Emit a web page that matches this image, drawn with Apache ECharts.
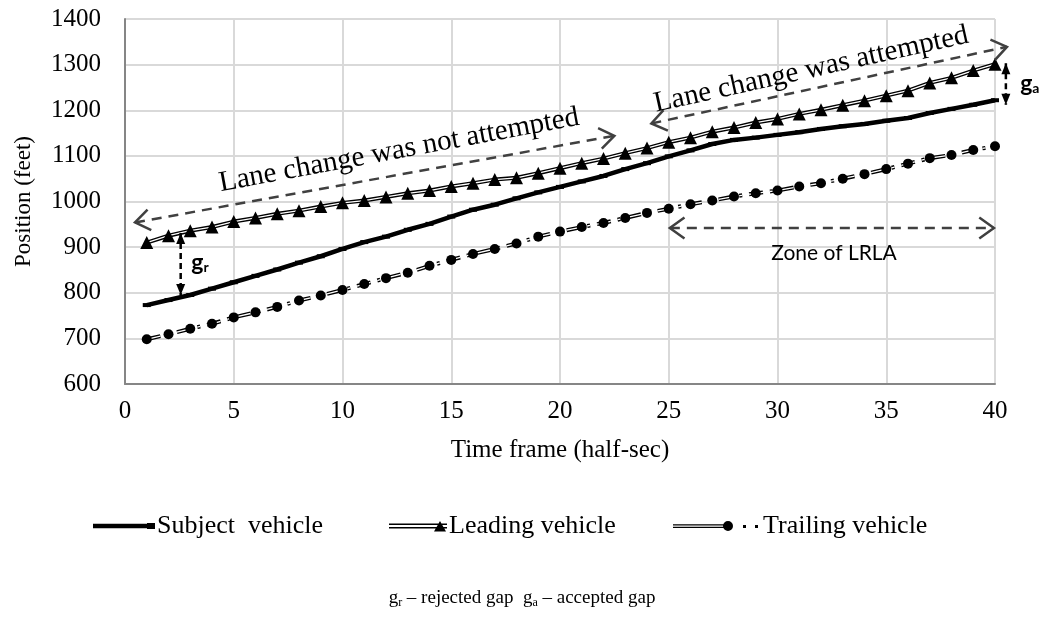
<!DOCTYPE html>
<html>
<head>
<meta charset="utf-8">
<script src="https://cdn.jsdelivr.net/npm/echarts/dist/echarts.min.js"></script>
<style>
  html, body { margin: 0; padding: 0; background: #fff; }
  #chart { width: 1045px; height: 635px; }
</style>
</head>
<body>
<div id="chart"></div>
<script>
// time frames (half-sec)
var frames = [1, 2, 3, 4, 5, 6, 7, 8, 9, 10, 11, 12, 13, 14, 15, 16, 17, 18, 19, 20,
              21, 22, 23, 24, 25, 26, 27, 28, 29, 30, 31, 32, 33, 34, 35, 36, 37, 38, 39, 40];

// position (feet)
var subjectPos = [773, 784, 795, 809, 823, 837, 851, 866, 880, 896, 911, 923, 938, 951, 967, 982, 993, 1007, 1020, 1032,
                  1044, 1056, 1071, 1084, 1099, 1112, 1126, 1135, 1140, 1146, 1152, 1159, 1165, 1170, 1177, 1183, 1194, 1203, 1212, 1222];
var leadingPos = [910, 925, 936, 944, 956, 964, 973, 980, 989, 997, 1002, 1010, 1018, 1024, 1033, 1040, 1048, 1052, 1062, 1073,
                  1084, 1094, 1106, 1117, 1130, 1140, 1153, 1162, 1173, 1181, 1192, 1201, 1211, 1221, 1232, 1243, 1260, 1271, 1287, 1301];
var trailingPos = [698, 709, 721, 732, 746, 757, 769, 783, 794, 806, 819, 832, 844, 859, 872, 885, 896, 908, 923, 934,
                   944, 953, 964, 975, 984, 994, 1002, 1011, 1018, 1024, 1033, 1040, 1050, 1060, 1071, 1083, 1095, 1102, 1113, 1121];

var seriesNames = ['Subject  vehicle', 'Leading vehicle', 'Trailing vehicle'];

function pairs(vals) {
    return frames.map(function (t, i) { return [t, vals[i]]; });
}

var serif = '"Liberation Serif", "Times New Roman", serif';
var sans = 'Lato, "Open Sans", "Liberation Sans", sans-serif';

var myChart = echarts.init(document.getElementById('chart'));

var iconSubject = 'path://M0,0 L0.01,0 Z M62,14 L61.99,14 Z M0,4.8 L62,4.8 L62,9.2 L0,9.2 Z M54,4 L62,4 L62,10 L54,10 Z';
var iconLeading = 'path://M0,0 L0.01,0 Z M58,14 L57.99,14 Z M0,4.6 L58,4.6 L58,5.9 L0,5.9 Z M0,8.1 L58,8.1 L58,9.4 L0,9.4 Z M45,12.5 L51,2 L57,12.5 Z';
var iconTrailing = 'path://M0,0 L0.01,0 Z M88,14 L87.99,14 Z M0,5.3 L52,5.3 L52,6.5 L0,6.5 Z M0,7.7 L52,7.7 L52,8.9 L0,8.9 Z M50,7 A5,5 0 1 1 60,7 A5,5 0 1 1 50,7 Z M70,6 L73,6 L73,9 L70,9 Z M82,6 L85,6 L85,9 L82,9 Z';

function legendAt(left, width, name, icon) {
    return {
        top: 508,
        left: left,
        itemWidth: width,
        itemHeight: 14,
        itemGap: 0,
        textStyle: { fontFamily: serif, fontSize: 26, color: '#000', padding: [0, 0, 0, -3] },
        data: [{ name: name, icon: icon }]
    };
}

var option = {
    backgroundColor: '#fff',
    animation: false,
    grid: {
        left: 125, right: 50, top: 19, bottom: 251,
        show: true, borderColor: '#000', borderWidth: 1
    },
    legend: [
        legendAt(88, 62, seriesNames[0], iconSubject),
        legendAt(384, 58, seriesNames[1], iconLeading),
        legendAt(668, 88, seriesNames[2], iconTrailing)
    ],
    xAxis: {
        type: 'value',
        min: 0, max: 40, interval: 5,
        name: 'Time frame (half-sec)',
        nameLocation: 'middle',
        nameGap: 54,
        nameTextStyle: { fontFamily: serif, fontSize: 25, color: '#000' },
        axisLine: { show: true, lineStyle: { color: '#868686', width: 2 } },
        axisTick: { show: false },
        axisLabel: { fontFamily: serif, fontSize: 25, color: '#000', margin: 15 },
        splitLine: { show: true, lineStyle: { color: '#d9d9d9', width: 2 } }
    },
    yAxis: {
        type: 'value',
        min: 600, max: 1400, interval: 100,
        name: 'Position (feet)',
        nameLocation: 'middle',
        nameGap: 90,
        nameTextStyle: { fontFamily: serif, fontSize: 23, color: '#000' },
        axisLine: { show: true, lineStyle: { color: '#868686', width: 2 } },
        axisTick: { show: false },
        axisLabel: {
            fontFamily: serif, fontSize: 25, color: '#000', margin: 24,
            formatter: function (v) { return String(v); }
        },
        splitLine: { show: true, lineStyle: { color: '#d9d9d9', width: 2 } }
    },
    series: [
        {
            name: seriesNames[0],
            type: 'line',
            data: pairs(subjectPos),
            color: '#000',
            lineStyle: { color: '#000', width: 4.5 },
            symbol: 'rect',
            symbolSize: [8, 4],
            itemStyle: { color: '#000' },
            z: 4
        },
        {
            name: seriesNames[1],
            type: 'line',
            data: pairs(leadingPos),
            color: '#000',
            lineStyle: { color: '#000', width: 4 },
            symbol: 'none',
            itemStyle: { color: '#000' },
            z: 2
        },
        {
            name: seriesNames[1],
            type: 'line',
            data: pairs(leadingPos),
            color: '#000',
            lineStyle: { color: '#fff', width: 1.3 },
            symbol: 'triangle',
            symbolSize: 13,
            itemStyle: { color: '#000' },
            z: 3
        },
        {
            name: seriesNames[2],
            type: 'line',
            data: pairs(trailingPos),
            color: '#000',
            lineStyle: { color: '#000', width: 4, type: [14, 7, 3, 7] },
            symbol: 'none',
            itemStyle: { color: '#000' },
            z: 2
        },
        {
            name: seriesNames[2],
            type: 'line',
            data: pairs(trailingPos),
            color: '#000',
            lineStyle: { color: '#fff', width: 1.3, type: [14, 7, 3, 7] },
            symbol: 'circle',
            symbolSize: 10,
            itemStyle: { color: '#000' },
            z: 3
        }
    ]
};

myChart.setOption(option);

// ---- annotations, anchored in data coordinates ----
function px(t, v) {
    return myChart.convertToPixel({ gridIndex: 0 }, [t, v]);
}

function chevron(tip, from, len, ang, style) {
    var dx = tip[0] - from[0], dy = tip[1] - from[1];
    var d = Math.sqrt(dx * dx + dy * dy);
    var ux = dx / d, uy = dy / d;
    function arm(a) {
        var c = Math.cos(a), s = Math.sin(a);
        var rx = ux * c - uy * s, ry = ux * s + uy * c;
        return [tip[0] - rx * len, tip[1] - ry * len];
    }
    return {
        type: 'polyline',
        shape: { points: [arm(ang), tip, arm(-ang)] },
        style: style,
        z: 10
    };
}

function headTriangle(tip, from, len, half) {
    var dx = tip[0] - from[0], dy = tip[1] - from[1];
    var d = Math.sqrt(dx * dx + dy * dy);
    var ux = dx / d, uy = dy / d;
    var bx = tip[0] - ux * len, by = tip[1] - uy * len;
    return {
        type: 'polygon',
        shape: { points: [tip, [bx - uy * half, by + ux * half], [bx + uy * half, by - ux * half]] },
        style: { fill: '#000' },
        z: 10
    };
}

function openArrow(a, b) {
    var p1 = px(a[0], a[1]), p2 = px(b[0], b[1]);
    var st = { stroke: '#404040', lineWidth: 2.5, fill: null };
    return [
        { type: 'line', shape: { x1: p1[0], y1: p1[1], x2: p2[0], y2: p2[1] },
          style: { stroke: '#404040', lineWidth: 2.5, lineDash: [10, 7] }, z: 10 },
        chevron(p1, p2, 18, 0.62, st),
        chevron(p2, p1, 18, 0.62, st)
    ];
}

function gapArrow(a, b) {
    var p1 = px(a[0], a[1]), p2 = px(b[0], b[1]);
    return [
        { type: 'line', shape: { x1: p1[0], y1: p1[1], x2: p2[0], y2: p2[1] },
          style: { stroke: '#000', lineWidth: 2.5, lineDash: [6, 4] }, z: 10 },
        headTriangle(p1, p2, 11, 4.5),
        headTriangle(p2, p1, 11, 4.5)
    ];
}

function label(t, v, text, font, size, rotDeg, rich) {
    var p = px(t, v);
    return {
        type: 'text',
        x: p[0], y: p[1],
        rotation: (rotDeg || 0) * Math.PI / 180,
        style: {
            text: text,
            fontFamily: font,
            fontSize: size,
            fill: '#000',
            align: 'center',
            verticalAlign: 'middle',
            rich: rich
        },
        z: 11
    };
}

var gRich = {
    g: { fontFamily: sans, fontWeight: 'bold', fontSize: 23, fill: '#000' },
    s: { fontFamily: sans, fontWeight: 'bold', fontSize: 14, fill: '#000', padding: [10, 0, 0, 0] }
};

var graphics = []
    .concat(openArrow([0.46, 954], [22.5, 1144]))
    .concat(openArrow([24.2, 1171], [40.55, 1339]))
    .concat(openArrow([25.05, 942], [39.95, 942]))
    .concat(gapArrow([2.56, 931], [2.56, 795]))
    .concat(gapArrow([40.5, 1303], [40.5, 1212]));

graphics.push(label(12.6, 1112, 'Lane change was not attempted', serif, 29, 10.5));
graphics.push(label(31.55, 1289, 'Lane change was attempted', serif, 29, 12.5));
graphics.push(label(32.6, 887, 'Zone of LRLA', sans, 21, 0));
graphics.push(label(3.45, 866, '{g|g}{s|r}', sans, 23, 0, gRich));
graphics.push(label(41.6, 1258, '{g|g}{s|a}', sans, 23, 0, gRich));

graphics.push({
    type: 'text',
    x: 522, y: 598,
    style: {
        text: '{n|g}{s|r}{n| – rejected gap  g}{s|a}{n| – accepted gap}',
        align: 'center',
        verticalAlign: 'middle',
        rich: {
            n: { fontFamily: serif, fontSize: 19, fill: '#000' },
            s: { fontFamily: serif, fontSize: 12, fill: '#000', padding: [9, 0, 0, 0] }
        }
    },
    z: 11
});

myChart.setOption({ graphic: graphics });
</script>
</body>
</html>
